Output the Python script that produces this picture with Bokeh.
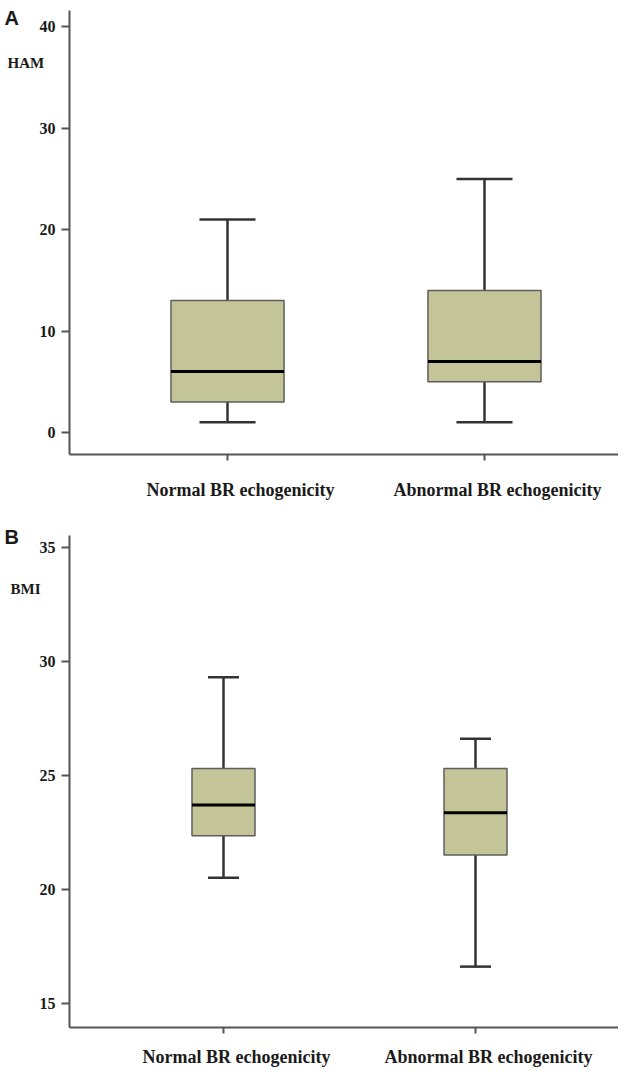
from bokeh.plotting import figure
from bokeh.layouts import column
from bokeh.models import Range1d, FixedTicker, Label, ColumnDataSource, LinearAxis
from bokeh.embed import file_html
from bokeh.resources import INLINE

# ---------------- data ----------------
categories = ["Normal BR echogenicity", "Abnormal BR echogenicity"]
positions = [1, 2]

ham_lower = [1, 1]
ham_q1 = [3, 5]
ham_median = [6, 7]
ham_q3 = [13, 14]
ham_upper = [21, 25]
ham_ticks = [0, 10, 20, 30, 40]

bmi_lower = [20.5, 16.6]
bmi_q1 = [22.35, 21.5]
bmi_median = [23.7, 23.35]
bmi_q3 = [25.3, 25.3]
bmi_upper = [29.3, 26.6]
bmi_ticks = [15, 20, 25, 30, 35]

BOX_FILL = "#c3c599"
BOX_LINE = "#5e5e5e"
WHISK = "#333333"
AXIS = "#555555"
SERIF = "Liberation Serif"


def make_panel(height, xr, yr, ax_x, ax_y, ax_top, ticks,
               lower, q1, med, q3, upper, box_w, cap_w,
               letter, letter_y, ylab, ylab_x, ylab_y, xlab_y, xlab_off):
    p = figure(width=618, height=height, output_backend="svg",
               toolbar_location=None, x_range=Range1d(*xr), y_range=Range1d(*yr),
               x_axis_location=None, y_axis_location=None,
               min_border=0, min_border_left=0, min_border_right=0,
               min_border_top=0, min_border_bottom=0)
    p.outline_line_color = None
    p.xgrid.visible = False
    p.ygrid.visible = False

    src = ColumnDataSource(dict(
        x=positions,
        left=[x - box_w / 2 for x in positions],
        right=[x + box_w / 2 for x in positions],
        cl=[x - cap_w / 2 for x in positions],
        cr=[x + cap_w / 2 for x in positions],
        lower=lower, q1=q1, med=med, q3=q3, upper=upper,
    ))
    p.segment(x0="x", y0="lower", x1="x", y1="q1", source=src, line_color=WHISK, line_width=2.5)
    p.segment(x0="x", y0="q3", x1="x", y1="upper", source=src, line_color=WHISK, line_width=2.5)
    p.segment(x0="cl", y0="lower", x1="cr", y1="lower", source=src, line_color=WHISK, line_width=2.5)
    p.segment(x0="cl", y0="upper", x1="cr", y1="upper", source=src, line_color=WHISK, line_width=2.5)
    p.quad(left="left", right="right", bottom="q1", top="q3", source=src,
           fill_color=BOX_FILL, line_color=BOX_LINE, line_width=1.5)
    p.segment(x0="left", y0="med", x1="right", y1="med", source=src, line_color="black", line_width=3)

    # axes placed at fixed data locations inside the frame
    xaxis = LinearAxis(fixed_location=ax_y, bounds=(ax_x, xr[1]),
                       ticker=FixedTicker(ticks=positions),
                       major_label_overrides={x: "" for x in positions},
                       major_tick_out=6, major_tick_in=0, minor_tick_line_color=None,
                       axis_line_color=AXIS, axis_line_width=2,
                       major_tick_line_color=AXIS, major_tick_line_width=2)
    yaxis = LinearAxis(fixed_location=ax_x, bounds=(ax_y, ax_top),
                       ticker=FixedTicker(ticks=ticks),
                       major_tick_out=8, major_tick_in=0, minor_tick_line_color=None,
                       major_label_standoff=6,
                       major_label_text_font=SERIF, major_label_text_font_style="bold",
                       major_label_text_font_size="16px", major_label_text_color="#1a1a1a",
                       axis_line_color=AXIS, axis_line_width=2,
                       major_tick_line_color=AXIS, major_tick_line_width=2)
    p.add_layout(xaxis, "below")
    p.add_layout(yaxis, "left")

    for x, c in zip(positions, categories):
        p.add_layout(Label(x=x, y=xlab_y, x_units="data", y_units="data", text=c,
                           x_offset=xlab_off, text_align="center", text_baseline="middle",
                           text_font=SERIF, text_font_style="bold", text_font_size="18px",
                           text_color="#1a1a1a"))
    p.add_layout(Label(x=ylab_x, y=ylab_y, x_units="screen", y_units="data", text=ylab,
                       text_align="left", text_baseline="middle",
                       text_font=SERIF, text_font_style="bold", text_font_size="15px",
                       text_color="#1a1a1a"))
    p.add_layout(Label(x=4, y=letter_y, x_units="screen", y_units="data", text=letter,
                       text_align="left", text_baseline="middle",
                       text_font="Liberation Sans", text_font_style="bold", text_font_size="20px",
                       text_color="#1a1a1a"))
    return p


pA = make_panel(522, (0.11673, 2.5214), (-8.885, 42.594), 0.3852, -2.18, 41.61, ham_ticks,
                ham_lower, ham_q1, ham_median, ham_q3, ham_upper, 0.44, 0.218,
                "A", 40.83, "HAM", 7, 36.39, -5.72, 13)
pB = make_panel(545, (0.11508, 2.5675), (12.172, 36.097), 0.389, 13.92, 35.52, bmi_ticks,
                bmi_lower, bmi_q1, bmi_median, bmi_q3, bmi_upper, 0.25, 0.123,
                "B", 35.48, "BMI", 10, 33.17, 12.65, 13)

layout = column(pA, pB, spacing=0)
open("out.html", "w").write(file_html(layout, INLINE))
